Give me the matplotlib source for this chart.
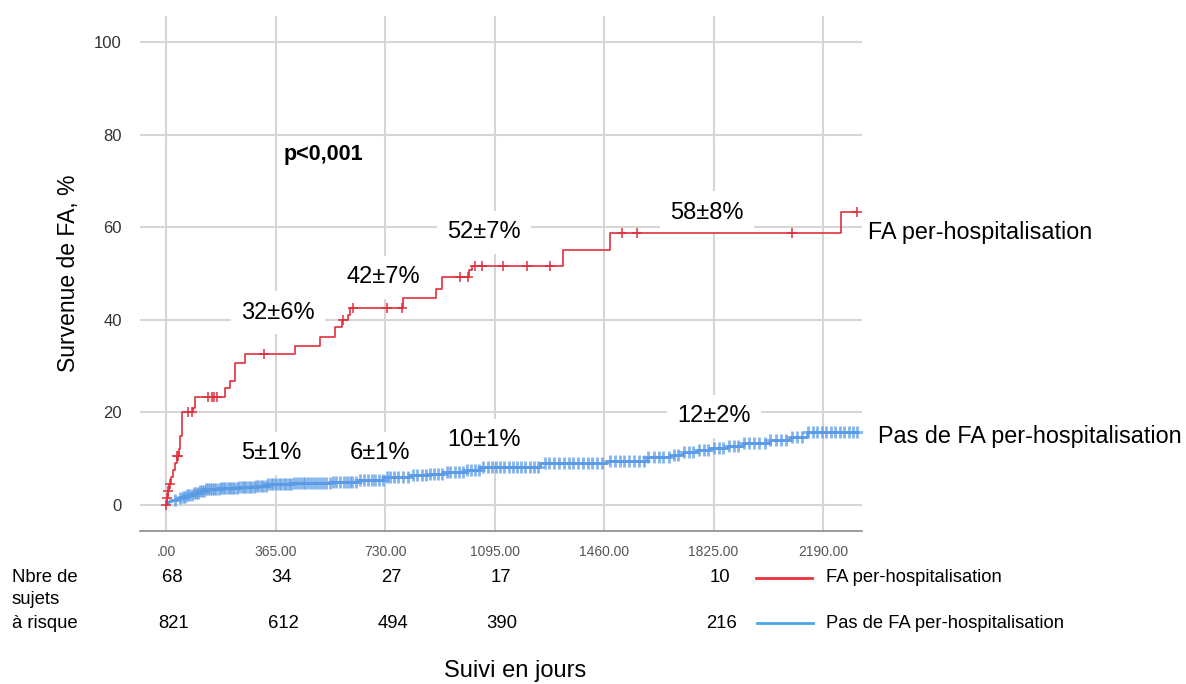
import matplotlib
matplotlib.use("Agg")
import matplotlib.pyplot as plt
import numpy as np

plt.rcParams['font.family'] = ['Liberation Sans', 'DejaVu Sans']

# --- data (days, % cumulative incidence) ---
red_t = [0, 3, 6, 10, 15, 22, 30, 37, 42, 47, 53, 90, 97, 197, 213, 230, 263, 430, 513,
         563, 588, 607, 613, 790, 900, 920, 1010, 1020, 1323, 1480, 2250]
red_v = [0, 1.5, 3.0, 4.5, 6.0, 7.5, 9.0, 10.5, 12.0, 15.0, 20.0, 21.0, 23.4, 25.3, 26.8,
         30.7, 32.6, 34.3, 36.3, 38.4, 40.0, 41.0, 42.5, 44.7, 46.7, 49.2, 50.7, 51.6,
         55.1, 58.7, 63.3]
red_cens = [0, 4, 8, 12, 37, 40, 73, 87, 140, 153, 160, 170, 327, 590, 623, 737, 785,
            980, 1007, 1030, 1053, 1123, 1203, 1280, 1520, 1570, 2087, 2303]

blue_t = [0, 5, 10, 20, 35, 47, 65, 87, 110, 130, 180, 240, 300, 340, 420, 547, 640, 723,
          813, 880, 923, 1000, 1047, 1247, 1470, 1603, 1680, 1723, 1770, 1813, 1870, 1923,
          2013, 2080, 2137]
blue_v = [0.3, 0.6, 0.9, 1.2, 1.5, 1.8, 2.2, 2.6, 3.0, 3.4, 3.7, 3.9, 4.2, 4.6, 4.8, 5.0,
          5.5, 6.0, 6.5, 6.8, 7.1, 7.6, 8.2, 9.0, 9.5, 10.4, 10.8, 11.4, 11.8, 12.3, 12.8,
          13.4, 14.0, 14.7, 15.8]
blue_cens = [30, 45, 55, 62, 70, 78, 85, 92, 100, 106, 113, 120, 126, 133, 140, 147, 153,
             160, 168, 175, 182, 190, 197, 205, 212, 220, 228, 236, 244, 252, 260, 268, 276,
             284, 292, 300, 308, 316, 324, 332, 340, 350, 358, 366, 375, 383, 392, 400, 410,
             418, 427, 436, 445, 455, 464, 473, 483, 492, 502, 512, 522, 533, 545, 556, 568,
             580, 592, 604, 612, 620, 633, 646, 660, 672, 685, 698, 710, 722, 735, 748, 760,
             773, 790, 806, 822, 838, 852, 866, 880, 894, 908, 920, 935, 948, 962, 976, 990,
             1003, 1017, 1030, 1044, 1058, 1072, 1086, 1100, 1114, 1128, 1142, 1156, 1170,
             1184, 1198, 1212, 1226, 1240, 1262, 1278, 1294, 1310, 1326, 1342, 1358, 1374,
             1390, 1406, 1420, 1436, 1452, 1480, 1496, 1512, 1528, 1544, 1560, 1576, 1592,
             1608, 1625, 1642, 1658, 1675, 1692, 1708, 1725, 1742, 1758, 1775, 1792, 1808,
             1825, 1842, 1858, 1875, 1892, 1908, 1925, 1942, 1960, 1978, 1996, 2014, 2032,
             2050, 2068, 2086, 2104, 2120, 2140, 2155, 2170, 2185, 2200, 2215, 2230, 2245,
             2260, 2275, 2290, 2303]
t_end = 2303

xticks = [0, 365, 730, 1095, 1460, 1825, 2190]
xtick_labels = ['.00', '365.00', '730.00', '1095.00', '1460.00', '1825.00', '2190.00']
yticks = [0, 20, 40, 60, 80, 100]

# annotations: (text, day, %)
annots = [('32±6%', 373, 41.5), ('42±7%', 723, 49.2), ('52±7%', 1060, 58.9),
          ('58±8%', 1803, 63.1), ('5±1%', 350, 11.2), ('6±1%', 713, 11.2),
          ('10±1%', 1060, 14.0), ('12±2%', 1827, 19.2)]

risk_days = [0, 365, 730, 1095, 1825]
risk_fa = [68, 34, 27, 17, 10]
risk_nofa = [821, 612, 494, 390, 216]

RED = '#e0303c'
BLUE = '#5b9be6'


def step_at(ts, vs, x):
    i = np.searchsorted(ts, x, side='right') - 1
    return np.array(vs)[np.clip(i, 0, None)]


fig = plt.figure(figsize=(11.86, 6.84), dpi=100)
ax = fig.add_axes([140/1186, 1-531/684, 722/1186, 515/684])
ax.set_xlim(-87, 2320)
ax.set_ylim(-5.6, 105.6)

for x in xticks:
    ax.axvline(x, color='#d6d6d6', lw=1.5, zorder=0)
for y in yticks:
    ax.axhline(y, color='#d6d6d6', lw=1.5, zorder=0)

# curves
ax.step(red_t + [t_end], red_v + [red_v[-1]], where='post', color=RED, lw=1.2, zorder=3)
ax.plot(red_cens, step_at(red_t, red_v, red_cens), '+', color=RED, ms=7, mew=1.1, zorder=3)
ax.step(blue_t + [t_end], blue_v + [blue_v[-1]], where='post', color=BLUE, lw=1.8, zorder=2)
ax.plot(blue_cens, step_at(blue_t, blue_v, blue_cens), '+', color=BLUE, ms=9, mew=2.0,
        alpha=0.75, zorder=2)

# labels sit over the grid but under the curves
for txt, x, y in annots:
    ax.text(x, y, txt, fontsize=17, ha='center', va='center', zorder=1,
            bbox=dict(boxstyle='square,pad=0.45', fc='white', ec='none'))
ax.text(523, 75.6, 'p<0,001', fontsize=15.5, fontweight='bold', ha='center', va='center',
        zorder=1, bbox=dict(boxstyle='square,pad=0.3', fc='white', ec='none'))

for s in ['top', 'right', 'left']:
    ax.spines[s].set_visible(False)
ax.spines['bottom'].set_color('#8a8a8a')
ax.spines['bottom'].set_linewidth(1.2)

ax.set_xticks(xticks)
ax.set_xticklabels(xtick_labels, fontsize=10, color='#555555')
ax.set_yticks(yticks)
ax.set_yticklabels([str(v) for v in yticks], fontsize=12, color='#333333')
ax.tick_params(axis='both', length=0)
ax.tick_params(axis='x', pad=10)
ax.tick_params(axis='y', pad=13)
ax.set_ylabel('Survenue de FA, %', fontsize=16.5, labelpad=10)

# curve labels on the right
fig.text(868/1186, 1-233/684, 'FA per-hospitalisation', fontsize=16.8, va='center')
fig.text(878/1186, 1-436/684, 'Pas de FA per-hospitalisation', fontsize=16.8, va='center')

# number at risk table
tr = ax.get_xaxis_transform()
fig.text(12/1186, 1-578/684, 'Nbre de', fontsize=13.3, va='center')
fig.text(12/1186, 1-599/684, 'sujets', fontsize=13.3, va='center')
fig.text(12/1186, 1-623/684, 'à risque', fontsize=13.3, va='center')
y_fa = -(578-531)/515
y_no = -(623-531)/515
for d, a, b in zip(risk_days, risk_fa, risk_nofa):
    ax.text(d + 20, y_fa, str(a), transform=tr, fontsize=13.3, ha='center', va='center')
    ax.text(d + 25, y_no, str(b), transform=tr, fontsize=13.3, ha='center', va='center')

fig.add_artist(plt.Line2D([756/1186, 812/1186], [1-578/684, 1-578/684], color='#e8333a', lw=2))
fig.add_artist(plt.Line2D([757/1186, 813/1186], [1-623/684, 1-623/684], color='#4aa8e8', lw=2))
fig.text(826/1186, 1-578/684, 'FA per-hospitalisation', fontsize=13.2, va='center')
fig.text(826/1186, 1-623/684, 'Pas de FA per-hospitalisation', fontsize=13.2, va='center')

fig.text(515/1186, 1-671/684, 'Suivi en jours', fontsize=17, ha='center', va='center')

fig.savefig('out.png', dpi=100)
